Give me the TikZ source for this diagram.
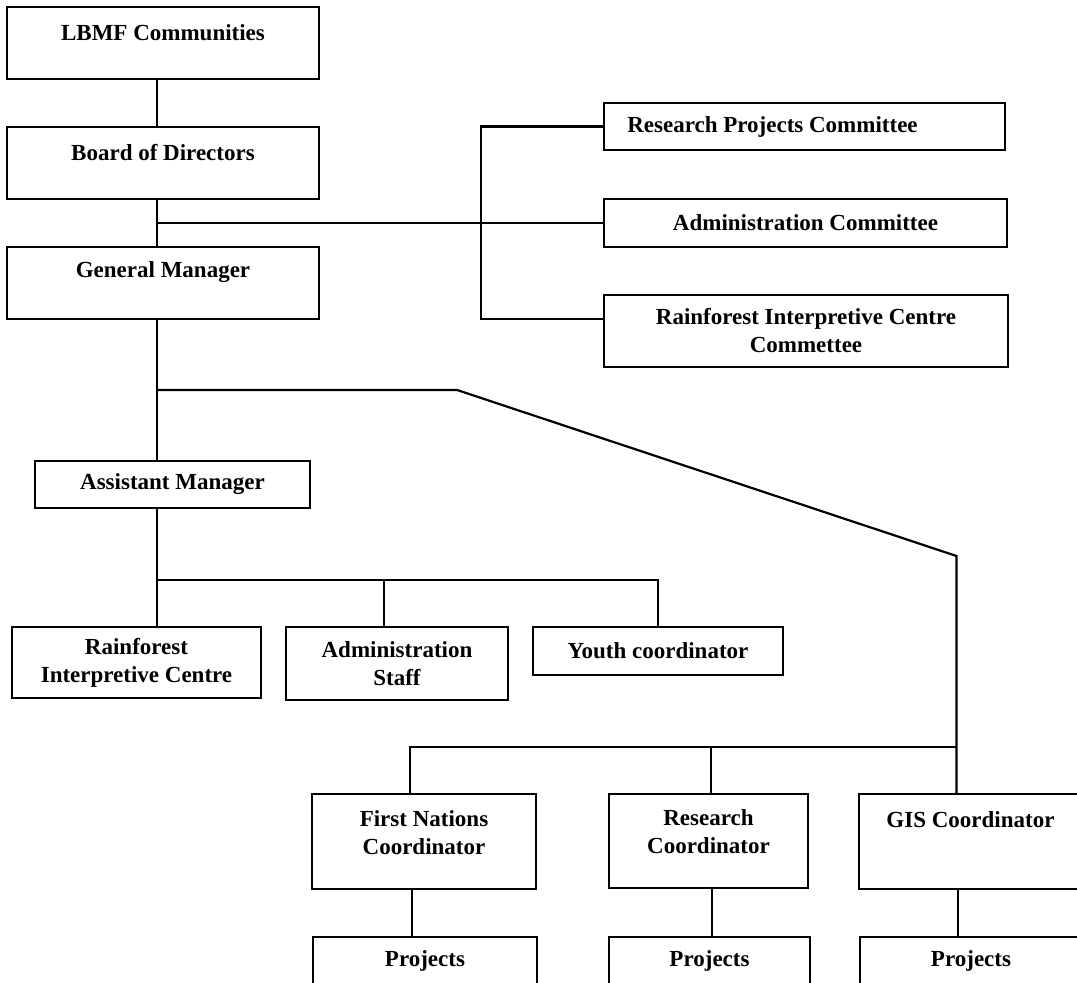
\documentclass[tikz,border=0pt]{standalone}
\usepackage{fontspec}
\setmainfont{Liberation Serif}
\newcommand{\orgfont}{\bfseries\fontsize{11.5}{14}\selectfont}
\tikzset{
  {box/.style} ={draw, line width=1pt, rectangle, inner sep=0,
                 align=center, font=\orgfont},
  {line/.style} ={draw, line width=1.1pt},
  every label/.style ={font=\orgfont, align=center},
}
\begin{document}
\begin{tikzpicture}[x=0.5pt, y=-0.5pt]
\useasboundingbox (0,0) rectangle (1077,983);
% board side
\node[box, minimum width=156pt, minimum height=36pt,
      label={[yshift=5pt]center:LBMF Communities}] (lbmf) at (163,43) {};
\node[box, minimum width=156pt, minimum height=36pt,
      label={[yshift=5pt]center:Board of Directors}] (bod) at (163,163) {};
\node[box, minimum width=156pt, minimum height=36pt,
      label={[yshift=5.5pt]center:General Manager}] (gm) at (163,283) {};
% committees
\node[box, minimum width=200.5pt, minimum height=23.5pt,
      label={[xshift=-16pt]center:Research Projects Committee}] (rpc) at (804.5,126.5) {};
\node[box, minimum width=201.5pt, minimum height=24pt] (adc) at (805.5,223) {Administration Committee};
\node[box, minimum width=202pt, minimum height=36pt] (ricc) at (806,331) {Rainforest Interpretive Centre\\Commettee};
% staff
\node[box, minimum width=137.5pt, minimum height=23.5pt] (am) at (172.5,484.5) {Assistant Manager};
\node[box, minimum width=124.5pt, minimum height=35.5pt] (ric) at (136.5,662.5) {Rainforest\\Interpretive Centre};
\node[box, minimum width=111pt, minimum height=36.5pt] (ast) at (397,663.5) {Administration\\Staff};
\node[box, minimum width=125pt, minimum height=24pt] (yc) at (658,651) {Youth coordinator};
% coordinators
\node[box, minimum width=112pt, minimum height=47.5pt,
      label={[yshift=4.5pt]center:First Nations\\Coordinator}] (fnc) at (424,841.5) {};
\node[box, minimum width=99.5pt, minimum height=47pt,
      label={[yshift=4.5pt]center:Research\\Coordinator}] (rc) at (708.5,841) {};
\node[box, minimum width=111.5pt, minimum height=47.5pt,
      label={[yshift=10.75pt]center:GIS Coordinator}] (gis) at (970.5,841.5) {};
\node[box, minimum width=112pt, minimum height=24pt] (p1) at (425,961) {Projects};
\node[box, minimum width=100.5pt, minimum height=24pt] (p2) at (709.5,961) {Projects};
\node[box, minimum width=111pt, minimum height=24pt] (p3) at (971,961) {Projects};

\coordinate (trunk) at (157,0);
\coordinate (bracket) at (481,0);
\coordinate (fork) at (157,390);
\coordinate (bend) at (457,390);
\coordinate (knee) at (956.5,556);
\coordinate (staffbus) at (157,580);
\coordinate (coordbus) at (956.5,747);

\draw[line] (trunk |- lbmf.south) -- (trunk |- bod.north);
\draw[line] (trunk |- bod.south) -- (trunk |- gm.north);
\draw[line] (trunk |- adc.west) -- (adc.west);
\draw[line] (rpc.west) -- (bracket |- rpc.west) |- ([yshift=6pt]ricc.west);
\draw[line] (trunk |- gm.south) -- (trunk |- am.north);
\draw[line] (fork) -- (bend) -- (knee) -- ([xshift=-7pt]gis.north);
\draw[line] (trunk |- am.south) -- (trunk |- ric.north);
\draw[line] (staffbus) -| (yc.north);
\draw[line] ([xshift=-6.5pt]ast.north) |- (staffbus);
\draw[line] ([xshift=-7pt]fnc.north) |- (coordbus);
\draw[line] ([xshift=1.25pt]rc.north) |- (coordbus);
\draw[line] ([xshift=-6pt]fnc.south) -- ([xshift=-6.5pt]p1.north);
\draw[line] ([xshift=1.75pt]rc.south) -- ([xshift=1.25pt]p2.north);
\draw[line] ([xshift=-6.25pt]gis.south) -- ([xshift=-6.5pt]p3.north);
\end{tikzpicture}
\end{document}
